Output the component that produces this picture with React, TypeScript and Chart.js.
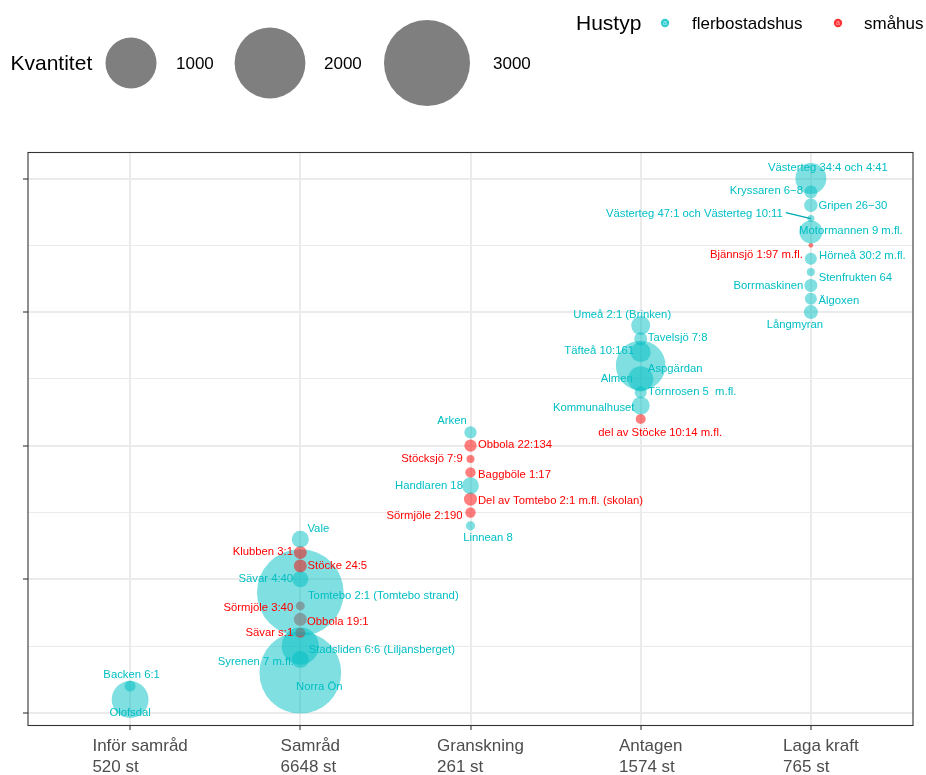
import React, { useEffect, useRef } from 'react';
import { Chart, registerables } from 'chart.js';

Chart.register(...registerables);

// ---- Data ----
const phases = ['Inför samråd', 'Samråd', 'Granskning', 'Antagen', 'Laga kraft'];
const phaseTotals = ['520 st', '6648 st', '261 st', '1574 st', '765 st'];

const projectNames = [
  'Olofsdal', 'Backen 6:1',
  'Norra Ön', 'Syrenen 7 m.fl.', 'Stadsliden 6:6 (Liljansberget)', 'Sävar s:1', 'Obbola 19:1',
  'Sörmjöle 3:40', 'Tomtebo 2:1 (Tomtebo strand)', 'Sävar 4:40', 'Stöcke 24:5', 'Klubben 3:1', 'Vale',
  'Linnean 8', 'Sörmjöle 2:190', 'Del av Tomtebo 2:1 m.fl. (skolan)', 'Handlaren 18', 'Baggböle 1:17',
  'Stöcksjö 7:9', 'Obbola 22:134', 'Arken',
  'del av Stöcke 10:14 m.fl.', 'Kommunalhuset', 'Törnrosen 5  m.fl.', 'Almen', 'Aspgärdan',
  'Täfteå 10:161', 'Tavelsjö 7:8', 'Umeå 2:1 (Brinken)',
  'Långmyran', 'Älgoxen', 'Borrmaskinen', 'Stenfrukten 64', 'Hörneå 30:2 m.fl.', 'Bjännsjö 1:97 m.fl.',
  'Motormannen 9 m.fl.', 'Västerteg 47:1 och Västerteg 10:11', 'Gripen 26−30', 'Kryssaren 6−8',
  'Västerteg 34:4 och 4:41',
];

// 1-based index into phases
const projectPhase = [
  1, 1,
  2, 2, 2, 2, 2, 2, 2, 2, 2, 2, 2,
  3, 3, 3, 3, 3, 3, 3, 3,
  4, 4, 4, 4, 4, 4, 4, 4,
  5, 5, 5, 5, 5, 5, 5, 5, 5, 5, 5,
];

const projectRank = [
  1, 2,
  3, 4, 5, 6, 7, 8, 9, 10, 11, 12, 13,
  14, 15, 16, 17, 18, 19, 20, 21,
  22, 23, 24, 25, 26, 27, 28, 29,
  30, 31, 32, 33, 34, 35, 36, 37, 38, 39, 40,
];

const projectQty = [
  494, 26,
  2700, 82, 506, 20, 41, 14, 3050, 71, 41, 41, 82,
  15, 22, 42, 80, 22, 10, 35, 35,
  20, 95, 33, 210, 945, 122, 41, 108,
  50, 33, 41, 10, 33, 1, 170, 6, 45, 41, 335,
];

const F = 'flerbostadshus';
const S = 'småhus';
const projectType = [
  F, F,
  F, F, F, S, S, S, F, F, S, S, F,
  F, S, S, F, S, S, S, F,
  S, F, F, F, F, F, F, F,
  F, F, F, F, F, S, F, F, F, F, F,
];

const hustypLevels = [F, S];
const sizeBreaks = [1000, 2000, 3000];
const yTickValues = [0, 5, 10, 15, 20, 25, 30, 35, 40];

// ---- Layout / style (not data) ----
const FONT = "'Liberation Sans', Arial, Helvetica, sans-serif";
const TEXT_COL: Record<string, string> = { [F]: '#00BFC4', [S]: '#FF0000' };
const FILL_COL: Record<string, string> = { [F]: 'rgba(0,191,196,0.5)', [S]: 'rgba(255,0,0,0.5)' };
const diameter = (q: number) => 3.3 + 1.51 * Math.sqrt(q);

// label offsets (px) from point centre, repel-style layout
const labelOffsets: [number, number][] = [
  [0, 13], [1.5, -11],
  [19, 14], [-44.5, 2], [81.5, 4], [-31, 0], [37.5, 3], [-42, 2], [83, 3.4], [-34.5, 0], [37, 0], [-37.5, -1], [18, -10],
  [17.5, 12.5], [-46, 3.5], [90, 1.5], [-41.5, 0], [44, 2], [-38.5, 0], [44.5, -1], [-18.5, -11],
  [19.5, 13.5], [-47, 2], [51.5, 0], [-24, 0], [34.5, 3], [-41.5, -1], [37, -1], [-18.5, -11],
  [-16, 13], [28, 2], [-42.5, 0], [44.5, 6], [51.5, -3], [-54.5, 9.4], [40, -1.5], [-116.5, -5], [42, 1], [-44.5, -1], [17, -11],
];
const segmentLabels = [36];

const sizeLegendX = [131, 270, 427];
const sizeLegendLabelX = [176, 324, 493];
const typeLegendKeyX = [665, 838];
const typeLegendLabelX = [692, 864];

export default function App() {
  const ref = useRef<HTMLCanvasElement>(null);

  useEffect(() => {
    const canvas = ref.current;
    if (!canvas) return;

    const overlay = {
      id: 'overlay',
      afterDatasetsDraw(chart: any) {
        const ctx = chart.ctx as CanvasRenderingContext2D;
        const meta = chart.getDatasetMeta(0);
        const area = chart.chartArea;
        ctx.save();
        ctx.font = `11.3px ${FONT}`;
        ctx.textAlign = 'center';
        ctx.textBaseline = 'middle';
        meta.data.forEach((el: any, i: number) => {
          const [dx, dy] = labelOffsets[i];
          const tx = el.x + dx;
          const ty = el.y + dy;
          ctx.fillStyle = TEXT_COL[projectType[i]];
          ctx.fillText(projectNames[i], tx, ty);
          if (segmentLabels.includes(i)) {
            const w = ctx.measureText(projectNames[i]).width;
            ctx.strokeStyle = '#00A9B0';
            ctx.lineWidth = 1.5;
            ctx.beginPath();
            ctx.moveTo(tx + w / 2 + 3, ty - 1);
            ctx.lineTo(el.x, el.y);
            ctx.stroke();
          }
        });
        // panel border
        ctx.strokeStyle = '#333333';
        ctx.lineWidth = 1.1;
        ctx.strokeRect(area.left, area.top, area.right - area.left, area.bottom - area.top);
        ctx.restore();
      },
      afterDraw(chart: any) {
        const ctx = chart.ctx as CanvasRenderingContext2D;
        const xs = chart.scales.x;
        ctx.save();
        // x tick labels
        ctx.font = `17px ${FONT}`;
        ctx.fillStyle = '#4D4D4D';
        ctx.textAlign = 'left';
        ctx.textBaseline = 'alphabetic';
        phases.forEach((p, i) => {
          const tx = xs.getPixelForValue(i + 1);
          const lines = [p, phaseTotals[i]];
          const w = Math.max(...lines.map((l) => ctx.measureText(l).width));
          const left = tx + 10 - w / 2;
          ctx.fillText(lines[0], left, 751);
          ctx.fillText(lines[1], left, 772);
        });

        // size legend
        ctx.fillStyle = '#000000';
        ctx.font = `21px ${FONT}`;
        ctx.fillText('Kvantitet', 10.5, 69.5);
        sizeBreaks.forEach((b, i) => {
          ctx.fillStyle = '#7F7F7F';
          ctx.beginPath();
          ctx.arc(sizeLegendX[i], 63, diameter(b) / 2, 0, Math.PI * 2);
          ctx.fill();
          ctx.fillStyle = '#000000';
          ctx.font = `17px ${FONT}`;
          ctx.fillText(String(b), sizeLegendLabelX[i], 68.5);
        });

        // type legend
        ctx.font = `21px ${FONT}`;
        ctx.fillText('Hustyp', 576, 29.5);
        hustypLevels.forEach((t, i) => {
          ctx.fillStyle = TEXT_COL[t];
          ctx.globalAlpha = 0.8;
          ctx.beginPath();
          ctx.arc(typeLegendKeyX[i], 23, 4.2, 0, Math.PI * 2);
          ctx.fill();
          ctx.globalAlpha = 0.6;
          ctx.fillStyle = '#FFFFFF';
          ctx.font = `7px ${FONT}`;
          ctx.textAlign = 'center';
          ctx.textBaseline = 'middle';
          ctx.fillText('a', typeLegendKeyX[i], 23);
          ctx.globalAlpha = 1;
          ctx.textAlign = 'left';
          ctx.textBaseline = 'alphabetic';
          ctx.fillStyle = '#000000';
          ctx.font = `17px ${FONT}`;
          ctx.fillText(t, typeLegendLabelX[i], 28.5);
        });
        ctx.restore();
      },
    };

    const chart = new Chart(canvas, {
      type: 'bubble',
      data: {
        datasets: [
          {
            label: 'Kvantitet',
            data: projectNames.map((_, i) => ({ x: projectPhase[i], y: projectRank[i] })) as any,
            backgroundColor: projectType.map((t) => FILL_COL[t]),
            borderWidth: 0,
            radius: (c: any) => diameter(projectQty[c.dataIndex]) / 2,
          } as any,
        ],
      },
      options: {
        responsive: false,
        animation: false,
        devicePixelRatio: 1,
        events: [],
        layout: { autoPadding: false, padding: { left: 0, top: 152.5, right: 13, bottom: 0 } },
        plugins: { legend: { display: false }, tooltip: { enabled: false } },
        scales: {
          x: {
            type: 'linear',
            min: 0.4,
            max: 5.6,
            afterBuildTicks: (s: any) => {
              s.ticks = phases.map((_, i) => ({ value: i + 1 }));
            },
            afterFit: (s: any) => {
              s.height = 49.5;
            },
            ticks: { display: false },
            border: { display: false },
            grid: {
              color: '#EBEBEB',
              lineWidth: 2,
              drawTicks: true,
              tickLength: 4.5,
              tickColor: '#333333',
              tickWidth: 1.1,
            },
          },
          y: {
            type: 'linear',
            min: -0.95,
            max: 41.95,
            afterBuildTicks: (s: any) => {
              s.ticks = yTickValues.map((v) => ({ value: v }));
            },
            afterFit: (s: any) => {
              s.width = 28;
            },
            ticks: { display: false },
            border: { display: false },
            grid: {
              color: '#EBEBEB',
              lineWidth: (c: any) => (c.tick && c.tick.value % 10 === 0 ? 2 : 1),
              drawTicks: true,
              tickLength: 5,
              tickColor: (c: any) => (c.tick && c.tick.value % 10 === 0 ? '#333333' : 'rgba(0,0,0,0)'),
              tickWidth: 1.1,
            },
          },
        },
      },
      plugins: [overlay],
    });

    return () => chart.destroy();
  }, []);

  return (
    <div style={{ position: 'absolute', left: 0, top: 0, width: 926, height: 775, background: '#ffffff' }}>
      <canvas ref={ref} width={926} height={775} style={{ width: 926, height: 775, display: 'block' }} />
    </div>
  );
}
